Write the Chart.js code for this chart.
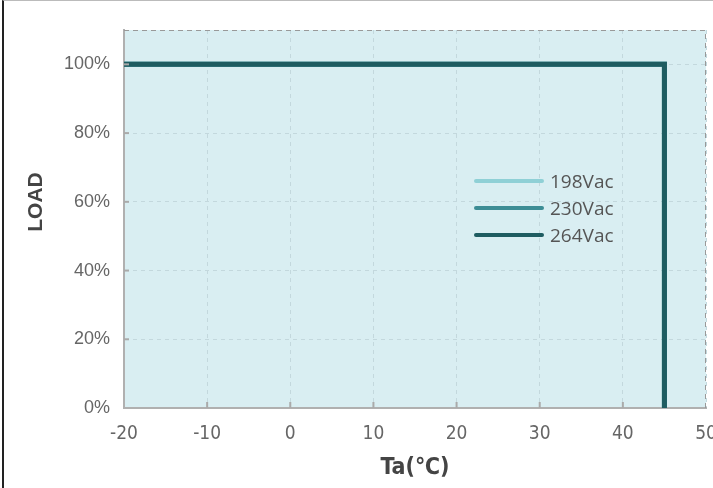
<!DOCTYPE html>
<html>
<head>
<meta charset="utf-8">
<script src="https://cdn.jsdelivr.net/npm/chart.js@4.4.1/dist/chart.umd.min.js"></script>
<style>
  html, body { margin: 0; padding: 0; background: #fff; overflow: hidden; }
  #wrap { position: relative; width: 713px; height: 488px; }
  #frame { position: absolute; left: 2px; top: 0; width: 711px; height: 488px;
           border-left: 2px solid #222; border-top: 1px solid #bbb; box-sizing: border-box; pointer-events: none; }
  .leg { position: absolute; left: 474px; height: 20px; display: flex; align-items: center; white-space: nowrap;
         font: 19px "Open Sans", "Noto Sans", sans-serif; color: #555; }
  .leg span { display: block; width: 70px; height: 4px; border-radius: 2px; margin-right: 6px; }
</style>
</head>
<body>
<div id="wrap">
  <canvas id="chart" width="713" height="488"></canvas>
  <div id="frame"></div>
  <div id="legend"></div>
</div>
<script>
// Données
var temps = [-20, 45, 45];
var load198 = [100, 100, 0];
var load230 = [100, 100, 0];
var load264 = [100, 100, 0];
var seriesNames = ['198Vac', '230Vac', '264Vac'];
var seriesColors = ['#8fd0d6', '#3d8d95', '#1e5c61'];
var xTicks = [-20, -10, 0, 10, 20, 30, 40, 50];
var yTicks = [0, 20, 40, 60, 80, 100];
var yTitle = 'LOAD';

function pts(ys) {
    return temps.map(function(t, i) { return { x: t, y: ys[i] }; });
}

// Fond de la zone de tracé, bordures pointillées, petites graduations et titre vertical
var plotDeco = {
    id: 'plotDeco',
    beforeDraw: function(chart) {
        var a = chart.chartArea, ctx = chart.ctx;
        ctx.save();
        ctx.fillStyle = '#d9eef2';
        ctx.fillRect(a.left, a.top, a.right - a.left, a.bottom - a.top);
        ctx.restore();
    },
    afterDraw: function(chart) {
        var a = chart.chartArea, ctx = chart.ctx;
        var xs = chart.scales.x, ys = chart.scales.y;
        ctx.save();
        ctx.strokeStyle = '#999';
        ctx.lineWidth = 1;
        ctx.setLineDash([5, 4]);
        ctx.beginPath();
        ctx.moveTo(a.left, a.top + 0.5);
        ctx.lineTo(a.right - 0.5, a.top + 0.5);
        ctx.lineTo(a.right - 0.5, a.bottom);
        ctx.stroke();
        ctx.setLineDash([]);
        ctx.strokeStyle = '#aaa';
        ctx.lineWidth = 2;
        xTicks.forEach(function(v) {
            var px = xs.getPixelForValue(v);
            if (v > -20 && v < 50) {
                ctx.beginPath();
                ctx.moveTo(px, a.bottom);
                ctx.lineTo(px, a.bottom - 6);
                ctx.stroke();
            }
        });
        yTicks.forEach(function(v) {
            var py = ys.getPixelForValue(v);
            if (v > 0) {
                ctx.beginPath();
                ctx.moveTo(a.left, py);
                ctx.lineTo(a.left + 5, py);
                ctx.stroke();
            }
        });
        // titre de l'axe Y
        ctx.translate(36, 202);
        ctx.rotate(-Math.PI / 2);
        ctx.fillStyle = '#444';
        ctx.font = 'bold 21px "Liberation Sans", Arial';
        ctx.textAlign = 'center';
        ctx.textBaseline = 'middle';
        ctx.fillText(yTitle, 0, 0);
        ctx.restore();
    }
};

var datasets = [load198, load230, load264].map(function(d, i) {
    return {
        label: seriesNames[i],
        data: pts(d),
        order: 2 - i,
        borderColor: seriesColors[i],
        backgroundColor: seriesColors[i],
        borderWidth: 5,
        pointRadius: 0,
        tension: 0,
        fill: false
    };
});

var chart = new Chart(document.getElementById('chart').getContext('2d'), {
    type: 'line',
    data: { datasets: datasets },
    plugins: [plotDeco],
    options: {
        responsive: false,
        animation: false,
        layout: { padding: { top: 30, right: 7, left: 0, bottom: 0 } },
        plugins: { legend: { display: false }, tooltip: { enabled: false } },
        scales: {
            x: {
                type: 'linear',
                min: -20,
                max: 50,
                afterBuildTicks: function(s) { s.ticks = xTicks.map(function(v) { return { value: v }; }); },
                afterFit: function(s) { s.paddingLeft = 0; s.paddingRight = 0; s.height = 80; },
                grid: { color: '#c3d8dd', drawTicks: false },
                border: { display: true, color: '#b0b0b0', width: 2, dash: [4, 4] },
                ticks: {
                    color: '#666',
                    padding: 15,
                    maxRotation: 0,
                    autoSkip: false,
                    font: { family: '"DejaVu Sans Condensed", "Liberation Sans Narrow", "Liberation Sans", Arial', size: 19 }
                },
                title: {
                    display: true,
                    text: 'Ta(℃)',
                    color: '#444',
                    padding: { top: 0, bottom: 6 },
                    font: { family: '"DejaVu Sans Condensed", "Liberation Sans", Arial', size: 23, weight: 'bold' }
                }
            },
            y: {
                min: 0,
                max: 110,
                afterBuildTicks: function(s) { s.ticks = yTicks.map(function(v) { return { value: v }; }); },
                afterFit: function(s) { s.width = 124; s.paddingTop = 0; s.paddingBottom = 0; },
                grid: { color: '#c3d8dd', drawTicks: false },
                border: { display: true, color: '#b0b0b0', width: 2, dash: [4, 4] },
                ticks: {
                    color: '#666',
                    padding: 14,
                    font: { family: '"Liberation Sans", Arial', size: 18 },
                    callback: function(v) { return v + '%'; }
                },
                title: { display: false }
            }
        }
    }
});

// Légende à l'intérieur de la zone de tracé
var legendMid = [181, 208, 235];
var legend = document.getElementById('legend');
seriesNames.forEach(function(name, i) {
    var div = document.createElement('div');
    div.className = 'leg';
    div.style.top = (legendMid[i] - 10) + 'px';
    div.innerHTML = '<span style="background:' + seriesColors[i] + '"></span>' + name;
    legend.appendChild(div);
});
</script>
</body>
</html>
